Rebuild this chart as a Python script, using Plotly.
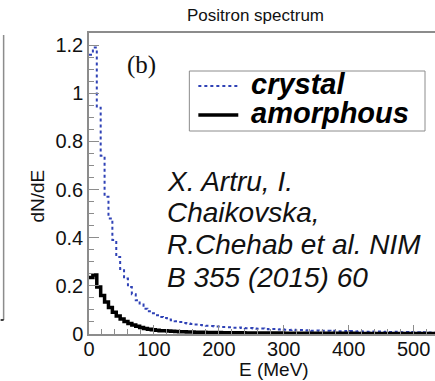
import plotly.graph_objects as go

BIN_WIDTH = 6  # MeV
crystal = [1.16, 1.19, 0.94, 0.74, 0.57, 0.48, 0.39, 0.32, 0.27, 0.23,
           0.195, 0.165, 0.14, 0.122, 0.105, 0.094, 0.086, 0.078, 0.071, 0.066,
           0.060, 0.057, 0.053, 0.050, 0.046, 0.044, 0.042, 0.039, 0.037, 0.036,
           0.034, 0.033, 0.031, 0.031, 0.029, 0.028, 0.028, 0.026, 0.027, 0.025,
           0.024, 0.025, 0.023, 0.022, 0.023, 0.021, 0.020, 0.021, 0.019, 0.020,
           0.018, 0.017, 0.018, 0.016, 0.017, 0.015, 0.016, 0.014, 0.015, 0.013,
           0.014, 0.013, 0.012, 0.013, 0.011, 0.012, 0.011, 0.012, 0.010, 0.011,
           0.010, 0.009, 0.010, 0.009, 0.010, 0.008, 0.009, 0.008, 0.009, 0.008,
           0.007, 0.008, 0.007, 0.008, 0.007, 0.006, 0.007, 0.006, 0.006]
amorphous = [0.235, 0.245, 0.195, 0.16, 0.133, 0.11, 0.09, 0.075, 0.062, 0.052,
             0.044, 0.037, 0.032, 0.027, 0.023, 0.020, 0.018, 0.016, 0.014, 0.013,
             0.012, 0.011, 0.010, 0.0095, 0.009, 0.0085, 0.008, 0.0075, 0.007, 0.0068,
             0.0065, 0.0062, 0.006, 0.0058, 0.0056, 0.0054, 0.0052, 0.005, 0.0049, 0.0048,
             0.0046, 0.0045, 0.0044, 0.0043, 0.0042, 0.0041, 0.004, 0.0039, 0.0038, 0.0037,
             0.0036, 0.0035, 0.0034, 0.0034, 0.0033, 0.0032, 0.0032, 0.0031, 0.003, 0.003,
             0.0029, 0.0029, 0.0028, 0.0028, 0.0027, 0.0027, 0.0026, 0.0026, 0.0025, 0.0025,
             0.0024, 0.0024, 0.0023, 0.0023, 0.0022, 0.0022, 0.0022, 0.0021, 0.0021, 0.002,
             0.002, 0.002, 0.0019, 0.0019, 0.0019, 0.0018, 0.0018, 0.0018, 0.0017]
x_ticks = [0, 100, 200, 300, 400, 500]
y_ticks = [0, 0.2, 0.4, 0.6, 0.8, 1.0, 1.2]
y_tick_text = ["0", "0.2", "0.4", "0.6", "0.8", "1", "1.2"]
series_names = ["crystal", "amorphous"]
citation = ["X. Artru, I.", "Chaikovska,", "R.Chehab et al. NIM", "B 355 (2015) 60"]

BLUE = "#2f42b6"
GRAY = "#8c8c8c"
SANS = "Liberation Sans, Arial"


def steps(vals):
    edges = [i * BIN_WIDTH for i in range(len(vals) + 1)]
    return edges, list(vals) + [vals[-1]]


W, H = 435, 381
L, R, T, B = 88.5, 0, 33, 47
pw, ph = W - L - R, H - T - B


def px(x):
    return (x - L) / pw


def py(y):
    return (H - B - y) / ph


fig = go.Figure()
xc, yc = steps(crystal)
fig.add_trace(go.Scatter(x=xc, y=yc, mode="lines", line_shape="hv", name=series_names[0],
                         showlegend=False, line=dict(color=BLUE, width=2, dash="dot")))
xa, ya = steps(amorphous)
fig.add_trace(go.Scatter(x=xa, y=ya, mode="lines", line_shape="hv", name=series_names[1],
                         showlegend=False, line=dict(color="black", width=3.5)))

axis_common = dict(showgrid=False, zeroline=False, showline=True, linecolor=GRAY,
                   linewidth=1.5, ticks="inside", tickcolor=GRAY,
                   tickfont=dict(family=SANS, size=20, color="#111"))
fig.update_xaxes(range=[0, 533], tickvals=x_ticks, ticklen=9, mirror=True,
                 ticklabelstandoff=-4,
                 minor=dict(dtick=20, ticks="inside", ticklen=5, tickcolor=GRAY),
                 **axis_common)
fig.update_yaxes(range=[0, 1.25], tickvals=y_ticks, ticktext=y_tick_text, ticklen=10,
                 minor=dict(dtick=0.05, ticks="inside", ticklen=5, tickcolor=GRAY),
                 **axis_common)


def ann(text, x, y, size, family=SANS, xanchor="center", angle=0, color="#111"):
    return dict(text=text, x=px(x), y=py(y), xref="paper", yref="paper",
                xanchor=xanchor, yanchor="middle", showarrow=False, textangle=angle,
                font=dict(family=family, size=size, color=color))


annotations = [
    ann("Positron spectrum", 255, 15, 17),
    ann("(b)", 141, 65, 25, family="Liberation Serif, Times New Roman"),
    ann("E (MeV)", 274, 369, 19),
    ann("dN/dE", 36, 196, 19, angle=-90),
]
for i, line in enumerate(citation):
    annotations.append(ann("<i>%s</i>" % line, 165, 181 + 32 * i, 28, xanchor="left"))

# legend drawn by hand to match the boxed ROOT legend
leg_rows = [86, 115]
for name, yrow in zip(series_names, leg_rows):
    annotations.append(ann("<b><i>%s</i></b>" % name, 249, yrow - 2, 29, xanchor="left",
                           color="black"))

shapes = [
    dict(type="rect", xref="paper", yref="paper", x0=px(189), x1=px(425),
         y0=py(131), y1=py(71), fillcolor="white", line=dict(color=GRAY, width=1), layer="below"),
    dict(type="line", xref="paper", yref="paper", x0=px(198), x1=px(238),
         y0=py(leg_rows[0]), y1=py(leg_rows[0]), line=dict(color=BLUE, width=2, dash="dot")),
    dict(type="line", xref="paper", yref="paper", x0=px(198), x1=px(238),
         y0=py(leg_rows[1]), y1=py(leg_rows[1]), line=dict(color="black", width=3.5)),
    dict(type="line", xref="paper", yref="paper", x0=px(3), x1=px(3),
         y0=py(35), y1=py(320), line=dict(color=GRAY, width=1.5)),
    dict(type="line", xref="paper", yref="paper", x0=px(0), x1=px(3),
         y0=py(320), y1=py(320), line=dict(color="black", width=1.5)),
]

fig.update_layout(
    width=W, height=H, margin=dict(l=L, r=R, t=T, b=B, autoexpand=False),
    paper_bgcolor="white", plot_bgcolor="white",
    annotations=annotations, shapes=shapes, showlegend=False,
)
fig.write_html("out.html")
